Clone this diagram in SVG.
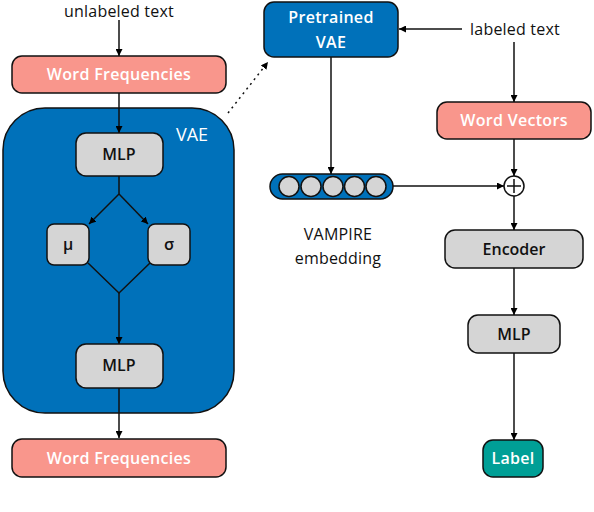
<svg xmlns="http://www.w3.org/2000/svg" width="594" height="512" viewBox="0 0 594 512">
<defs>
<marker id="ah" viewBox="0 0 10 10" refX="10" refY="5" markerWidth="7" markerHeight="7" markerUnits="userSpaceOnUse" orient="auto"><path d="M0,0 L10,5 L0,10 z" fill="#000"/></marker>
<style>
.t{font-family:"Open Sans","Noto Sans",sans-serif;}
.w{fill:#fff;font-size:16px;font-weight:600;text-anchor:middle;letter-spacing:0.3px;}
.b{fill:#111;font-size:16px;font-weight:600;text-anchor:middle;}
.n{fill:#111;font-size:16px;text-anchor:middle;letter-spacing:0.2px;}
.salmon{fill:#F9968C;stroke:#111;stroke-width:1.5;}
.gray{fill:#D5D5D5;stroke:#111;stroke-width:1.5;}
.blue{fill:#0071BA;stroke:#111;stroke-width:1.5;}
.ln{stroke:#111;stroke-width:1.5;fill:none;}
</style>
</defs>
<g id="vae-box"><rect class="blue" x="3" y="108" width="231" height="305" rx="42"/><text class="t" x="192" y="141" fill="#fff" font-size="18" text-anchor="middle">VAE</text></g>
<g id="unlabeled"><text class="t n" x="119" y="16.5" font-size="15.5">unlabeled text</text></g>
<g id="wf1"><rect class="salmon" x="12" y="56" width="214" height="37" rx="10"/><text class="t w" x="119" y="80">Word Frequencies</text></g>
<g id="mlp1"><rect class="gray" x="76" y="133" width="87" height="43" rx="10"/><text class="t b" x="119" y="160">MLP</text></g>
<g id="mu"><rect class="gray" x="47" y="224" width="42" height="41" rx="7"/><text class="t b" x="68" y="250">μ</text></g>
<g id="sigma"><rect class="gray" x="148" y="224" width="42" height="41" rx="7"/><text class="t b" x="169" y="250">σ</text></g>
<g id="mlp2"><rect class="gray" x="76" y="344" width="87" height="44" rx="10"/><text class="t b" x="119" y="371">MLP</text></g>
<g id="wf2"><rect class="salmon" x="12" y="439" width="214" height="38" rx="10"/><text class="t w" x="119" y="464">Word Frequencies</text></g>
<g id="pretrained"><rect class="blue" x="264" y="2" width="134" height="55" rx="10"/><text class="t w" x="331" y="23">Pretrained</text><text class="t w" x="331" y="48">VAE</text></g>
<g id="labeled"><text class="t n" x="515" y="35">labeled text</text></g>
<g id="wv"><rect class="salmon" x="437" y="102" width="154" height="37" rx="10"/><text class="t w" x="514" y="126">Word Vectors</text></g>
<g id="emb"><rect class="blue" x="270" y="174" width="123" height="25" rx="12.5"/>
<circle class="gray" cx="289" cy="186.5" r="10"/><circle class="gray" cx="311" cy="186.5" r="10"/><circle class="gray" cx="333" cy="186.5" r="10"/><circle class="gray" cx="354.5" cy="186.5" r="10"/><circle class="gray" cx="376" cy="186.5" r="10"/>
<text class="t n" x="338" y="240">VAMPIRE</text><text class="t n" x="338" y="264">embedding</text></g>
<g id="plus"><circle cx="514" cy="186" r="10" fill="#fff" stroke="#111" stroke-width="1.5"/><path class="ln" d="M507,186 H521 M514,179 V193"/></g>
<g id="encoder"><rect class="gray" x="445" y="230" width="138" height="38" rx="10"/><text class="t b" x="514" y="255">Encoder</text></g>
<g id="mlp3"><rect class="gray" x="468" y="315" width="92" height="38" rx="10"/><text class="t b" x="514" y="340">MLP</text></g>
<g id="label"><rect x="483" y="440" width="60" height="37" rx="10" fill="#009F96" stroke="#111" stroke-width="1.5"/><text class="t w" x="513" y="464">Label</text></g>
<g id="connectors">
<path class="ln" d="M119,20 V56" marker-end="url(#ah)"/>
<path class="ln" d="M119,93 V133" marker-end="url(#ah)"/>
<path class="ln" d="M119,176 V194 L89,224" marker-end="url(#ah)"/>
<path class="ln" d="M119,194 L148,224" marker-end="url(#ah)"/>
<path class="ln" d="M88,263 L119,293 L150,263"/>
<path class="ln" d="M119,293 V344" marker-end="url(#ah)"/>
<path class="ln" d="M119,388 V438" marker-end="url(#ah)"/>
<path class="ln" d="M228,113 L268,62" stroke-dasharray="2,4" marker-end="url(#ah)"/>
<path class="ln" d="M462,29 H399" marker-end="url(#ah)"/>
<path class="ln" d="M514,42 V102" marker-end="url(#ah)"/>
<path class="ln" d="M514,139 V176" marker-end="url(#ah)"/>
<path class="ln" d="M331,57 V174" marker-end="url(#ah)"/>
<path class="ln" d="M393,186 H504" marker-end="url(#ah)"/>
<path class="ln" d="M514,196 V230" marker-end="url(#ah)"/>
<path class="ln" d="M514,268 V315" marker-end="url(#ah)"/>
<path class="ln" d="M514,353 V440" marker-end="url(#ah)"/>
</g>
</svg>
